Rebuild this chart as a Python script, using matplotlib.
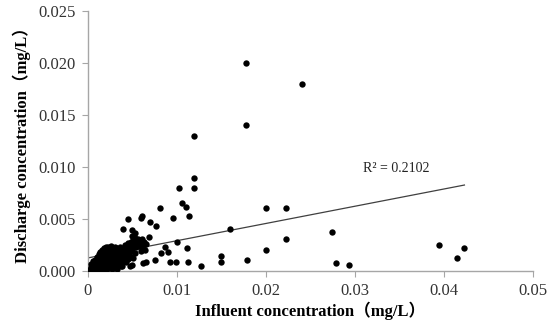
import numpy as np
import matplotlib
matplotlib.use("Agg")
import matplotlib.pyplot as plt

# influent / discharge concentration, in units of 0.001 mg/L
influent_k = [
    # dense cluster near the origin
    0.1, 0.2, 0.3, 0.3, 0.4, 0.5, 0.5, 0.6, 0.6, 0.7, 0.7, 0.8, 0.8, 0.9, 0.9,
    1.0, 1.0, 1.0, 1.1, 1.1, 1.2, 1.2, 1.2, 1.3, 1.3, 1.3, 1.4, 1.4, 1.4, 1.5,
    1.5, 1.6, 1.6, 1.6, 1.7, 1.7, 1.8, 1.8, 1.8, 1.9, 1.9, 1.9, 2.0, 2.0, 2.0,
    2.1, 2.1, 2.2, 2.2, 2.2, 2.3, 2.3, 2.3, 2.4, 2.4, 2.5, 2.5, 2.5, 2.6, 2.6,
    2.7, 2.7, 2.7, 2.8, 2.8, 2.9, 2.9, 3.0, 3.0, 3.0, 3.1, 3.1, 3.2, 3.2, 3.3,
    3.3, 3.3, 3.4, 3.4, 3.5, 3.5, 3.6, 3.6, 3.7, 3.7, 3.8, 3.8, 3.9, 4.0, 4.0,
    4.1, 4.2, 4.2, 4.3, 4.4, 4.4, 4.5, 4.5, 4.6, 4.7, 4.8, 4.8, 4.9, 5.0, 5.0,
    5.1, 5.2, 5.3, 5.4, 5.5, 5.6, 5.7, 5.8, 6.0, 6.1, 6.2, 6.3, 6.5, 6.4, 5.9,
    5.3, 5.1, 4.9, 4.7,
    # scattered points
    3.9, 4.9, 5.3, 4.5, 6.0, 6.1, 7.0, 7.6, 8.1, 6.9, 6.2, 6.5, 7.5, 8.2, 8.7,
    3.8, 9.0, 9.2, 9.5, 9.9, 10.0, 10.2, 10.6, 11.0, 11.1, 11.2, 11.4, 11.9,
    11.9, 11.9, 12.7, 15.0, 15.0, 16.0, 17.8, 17.8, 17.9, 20.0, 20.0, 22.2,
    22.2, 24.0, 27.4, 27.9, 29.3, 39.4, 41.5, 42.3,
]
discharge_k = [
    0.05, 0.1, 0.3, 0.6, 0.2, 0.5, 0.1, 0.3, 0.9, 0.7, 0.2, 0.5, 1.0, 0.3, 0.8,
    1.3, 0.6, 0.2, 1.0, 0.4, 1.6, 0.8, 0.2, 1.2, 0.5, 0.1, 1.8, 0.9, 0.3, 1.4,
    0.6, 2.0, 1.1, 0.2, 1.7, 0.8, 2.2, 1.3, 0.4, 1.9, 1.0, 0.1, 2.3, 1.5, 0.6,
    1.2, 0.2, 2.0, 1.7, 0.9, 2.3, 1.4, 0.5, 1.9, 1.1, 2.1, 0.7, 0.3, 1.6, 2.4,
    1.3, 0.9, 0.2, 2.0, 0.5, 1.7, 1.1, 2.3, 0.8, 0.3, 1.4, 1.9, 2.2, 1.0, 1.6,
    0.6, 0.2, 2.0, 1.2, 1.8, 0.9, 1.5, 2.3, 1.1, 0.4, 1.9, 0.7, 1.4, 2.2, 1.0,
    1.7, 2.5, 1.3, 0.8, 2.0, 1.5, 2.7, 1.1, 2.3, 1.8, 2.8, 1.3, 2.5, 2.0, 3.3,
    2.9, 2.6, 3.1, 2.3, 2.8, 3.0, 2.4, 2.9, 2.6, 3.0, 2.4, 2.8, 2.6, 2.0, 1.9,
    1.7, 1.2, 0.5, 0.45,
    4.0, 3.9, 3.6, 5.0, 5.1, 5.3, 4.7, 4.3, 6.0, 3.2, 0.7, 0.85, 1.0, 1.7, 2.3,
    0.4, 1.8, 0.8, 5.1, 0.8, 2.8, 8.0, 6.5, 6.1, 2.2, 0.8, 5.3, 13.0,
    8.9, 8.0, 0.45, 1.4, 0.8, 4.0, 20.0, 14.0, 1.0, 6.0, 2.0, 6.0,
    3.0, 18.0, 3.7, 0.7, 0.5, 2.5, 1.2, 2.2,
]

# Excel-style linear trendline shown on the chart
trend_slope = 0.166
trend_intercept = 0.00122
r2_label = "R² = 0.2102"

x_ticks = [0, 0.01, 0.02, 0.03, 0.04, 0.05]
x_ticklabels = ["0", "0.01", "0.02", "0.03", "0.04", "0.05"]
y_ticks = [0.0, 0.005, 0.010, 0.015, 0.020, 0.025]
y_ticklabels = ["0.000", "0.005", "0.010", "0.015", "0.020", "0.025"]

x = np.array(influent_k) / 1000
y = np.array(discharge_k) / 1000

fonts = ["Liberation Serif", "Noto Sans CJK SC"]
plt.rcParams["font.family"] = fonts

fig = plt.figure(figsize=(5.5, 3.26), dpi=100)
ax = fig.add_axes([0.16, 0.17, 0.809, 0.796])

ax.scatter(x, y, s=21, color="black", linewidths=0, zorder=3)

tx = np.array([x.min(), x.max()])
ax.plot(tx, trend_slope * tx + trend_intercept, color="#404040", linewidth=0.9, zorder=2)
ax.text(0.0309, 0.0095, r2_label, fontsize=10, color="#222222")

ax.set_xlim(0, 0.05)
ax.set_ylim(0, 0.025)
ax.set_xticks(x_ticks)
ax.set_xticklabels(x_ticklabels)
ax.set_yticks(y_ticks)
ax.set_yticklabels(y_ticklabels)

for side in ["top", "right"]:
    ax.spines[side].set_visible(False)
for side in ["left", "bottom"]:
    ax.spines[side].set_color("#a6a6a6")
    ax.spines[side].set_linewidth(1.0)
ax.tick_params(axis="both", colors="#a6a6a6", labelcolor="#333333",
               labelsize=12, length=4, direction="out")
ax.tick_params(axis="y", pad=5)
ax.tick_params(axis="x", pad=5)

ax.set_xlabel("Influent concentration（mg/L）", fontsize=12, fontweight="bold", labelpad=2)
ax.set_ylabel("Discharge concentration（mg/L）", fontsize=12, fontweight="bold", labelpad=5)

fig.savefig("out.png", dpi=100)
